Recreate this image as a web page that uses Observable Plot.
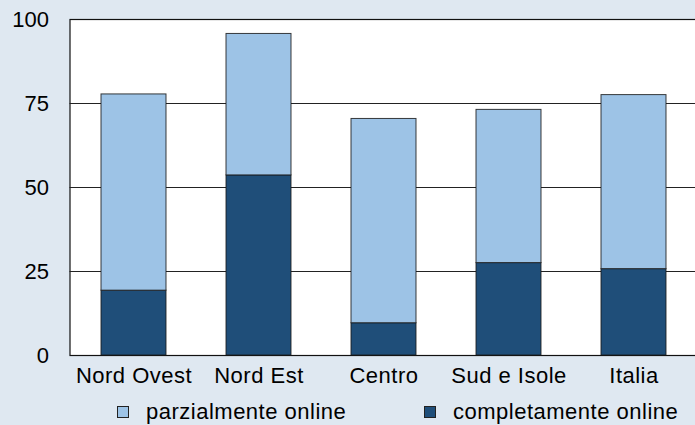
<!DOCTYPE html>
<html>
<head>
<meta charset="utf-8">
<script src="https://cdn.jsdelivr.net/npm/d3@7"></script>
<script src="https://cdn.jsdelivr.net/npm/@observablehq/plot@0.6"></script>
<style>
  html, body { margin: 0; padding: 0; background: #dfe8f1; width: 695px; height: 425px; overflow: hidden; }
  #chart svg { display: block; overflow: hidden; }
  #chart svg g[aria-label="x-axis tick label"] text { letter-spacing: 0.5px; }
  #legend { position: relative; height: 30px; font-family: "Liberation Sans", Arial, sans-serif; font-size: 22px; letter-spacing: 0.5px; color: #000; }
  .item { position: absolute; top: 0; display: flex; align-items: center; height: 34px; white-space: nowrap; }
  .sw { width: 10px; height: 10px; border: 1px solid #222; margin-right: 17px; }
</style>
</head>
<body>
<div id="chart"></div>
<div id="legend"></div>
<script>
const categories = ["Nord Ovest", "Nord Est", "Centro", "Sud e Isole", "Italia"];
const series = ["completamente online", "parzialmente online"];
const completamente = [19.3, 53.6, 9.6, 27.5, 25.7];
const parzialmente = [58.4, 42.1, 60.8, 45.6, 51.8];
const yTicks = [0, 25, 50, 75, 100];
const colors = ["#1f4e79", "#9dc3e6"];
const legendOrder = ["parzialmente online", "completamente online"];

const data = [];
categories.forEach((c, i) => {
  data.push({cat: c, s: series[0], v: completamente[i]});
  data.push({cat: c, s: series[1], v: parzialmente[i]});
});

const chart = Plot.plot({
  width: 695,
  height: 395,
  marginLeft: 69.5,
  marginRight: -3,
  marginTop: 19,
  marginBottom: 40,
  style: {background: "transparent", fontFamily: "Liberation Sans, Arial, sans-serif", fontSize: "22px", color: "#000"},
  x: {domain: categories, paddingInner: 0.48, paddingOuter: 0.24, label: null},
  y: {domain: [0, 100], label: null},
  color: {domain: series, range: colors},
  marks: [
    Plot.frame({fill: "white", stroke: "#111", strokeWidth: 1.2}),
    Plot.ruleY([25, 50, 75], {stroke: "#222", strokeWidth: 1}),
    Plot.barY(data, {x: "cat", y: "v", fill: "s", order: series, stroke: "#1a1a1a", strokeWidth: 1, strokeOpacity: 0.85}),
    Plot.axisY({ticks: yTicks, tickSize: 0, tickPadding: 21, fontSize: 22, tickFormat: d => String(d)}),
    Plot.axisX({tickSize: 0, tickPadding: 12, fontSize: 22})
  ]
});
document.getElementById("chart").append(chart);

const legend = document.getElementById("legend");
const legendX = [117, 424];
legendOrder.forEach((name, i) => {
  const item = document.createElement("div");
  item.className = "item";
  item.style.left = legendX[i] + "px";
  const sw = document.createElement("span");
  sw.className = "sw";
  sw.style.background = colors[series.indexOf(name)];
  const t = document.createElement("span");
  t.textContent = name;
  item.append(sw, t);
  legend.append(item);
});
</script>
</body>
</html>
